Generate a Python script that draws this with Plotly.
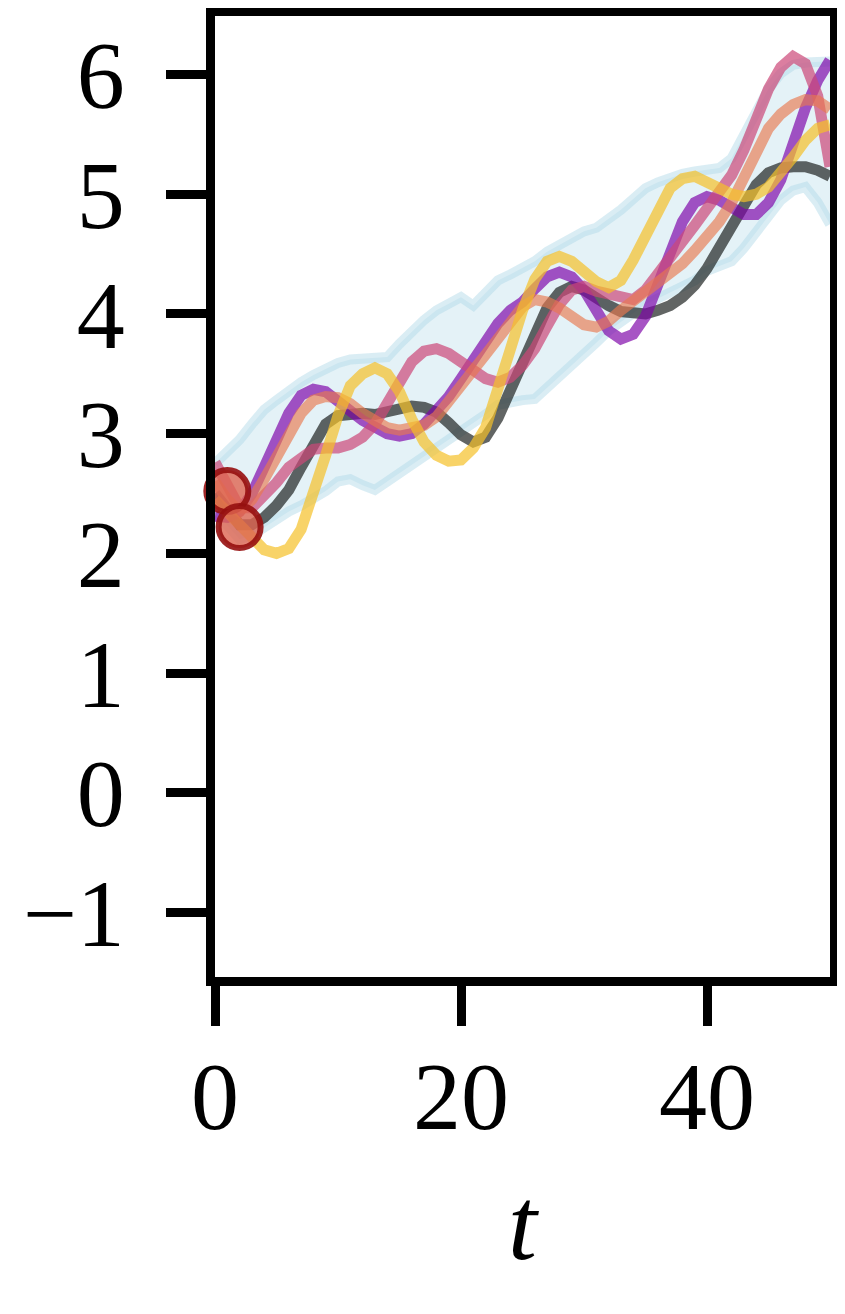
import plotly.graph_objects as go

# time steps and trajectories
t = list(range(51))

black = [2.50, 2.35, 2.24, 2.24, 2.30, 2.40, 2.53, 2.72, 2.92, 3.08,
         3.15, 3.17, 3.17, 3.16, 3.18, 3.21, 3.23, 3.22, 3.18, 3.09,
         2.99, 2.93, 2.97, 3.13, 3.36, 3.60, 3.85, 4.05, 4.18, 4.23,
         4.20, 4.13, 4.07, 4.02, 4.00, 4.00, 4.03, 4.07, 4.14, 4.24,
         4.38, 4.55, 4.74, 4.93, 5.08, 5.18, 5.22, 5.23, 5.23, 5.20, 5.15]
purple = [2.31, 2.30, 2.35, 2.50, 2.72, 2.95, 3.17, 3.32, 3.37, 3.35,
          3.28, 3.19, 3.11, 3.05, 3.00, 2.98, 3.00, 3.08, 3.19, 3.31,
          3.46, 3.62, 3.78, 3.92, 4.03, 4.10, 4.21, 4.31, 4.35, 4.31,
          4.20, 4.02, 3.86, 3.79, 3.83, 3.98, 4.25, 4.51, 4.77, 4.93,
          4.98, 4.95, 4.88, 4.83, 4.83, 4.93, 5.12, 5.44, 5.72, 5.95, 6.12]
pink = [2.76, 2.55, 2.38, 2.38, 2.48, 2.59, 2.72, 2.81, 2.87, 2.88,
        2.88, 2.91, 2.97, 3.08, 3.25, 3.45, 3.60, 3.69, 3.71, 3.67,
        3.60, 3.52, 3.46, 3.43, 3.47, 3.57, 3.71, 3.90, 4.08, 4.20,
        4.23, 4.19, 4.16, 4.14, 4.12, 4.20, 4.33, 4.45, 4.58, 4.74,
        4.88, 5.02, 5.16, 5.37, 5.64, 5.88, 6.06, 6.15, 6.09, 5.82, 5.23]
salmon = [2.60, 2.45, 2.35, 2.45, 2.62, 2.80, 3.00, 3.17, 3.28, 3.31,
          3.30, 3.25, 3.17, 3.10, 3.05, 3.03, 3.04, 3.07, 3.14, 3.26,
          3.40, 3.53, 3.66, 3.80, 3.94, 4.06, 4.12, 4.10, 4.05, 3.97,
          3.91, 3.89, 3.94, 4.03, 4.11, 4.18, 4.26, 4.33, 4.42, 4.53,
          4.65, 4.77, 4.93, 5.13, 5.36, 5.55, 5.67, 5.75, 5.79, 5.78, 5.71]
yellow = [2.45, 2.35, 2.22, 2.12, 2.03, 2.00, 2.04, 2.20, 2.48, 2.82,
          3.15, 3.40, 3.50, 3.55, 3.50, 3.35, 3.12, 2.93, 2.82, 2.77,
          2.78, 2.88, 3.05, 3.35, 3.70, 4.03, 4.29, 4.44, 4.48, 4.44,
          4.36, 4.27, 4.22, 4.28, 4.45, 4.66, 4.88, 5.05, 5.13, 5.15,
          5.10, 5.04, 5.00, 4.98, 5.00, 5.06, 5.17, 5.31, 5.45, 5.55, 5.58]

band_upper = [2.75, 2.85, 2.95, 3.08, 3.20, 3.28, 3.36, 3.43, 3.49, 3.55,
              3.59, 3.62, 3.63, 3.64, 3.64, 3.75, 3.86, 3.95, 4.03, 4.08,
              4.14, 4.07, 4.18, 4.28, 4.33, 4.38, 4.44, 4.52, 4.58, 4.64,
              4.69, 4.72, 4.79, 4.87, 4.96, 5.05, 5.10, 5.14, 5.17, 5.19,
              5.21, 5.22, 5.30, 5.48, 5.68, 5.88, 6.01, 6.08, 6.10, 6.11, 6.11]
band_lower = [2.35, 2.22, 2.12, 2.15, 2.22, 2.30, 2.35, 2.40, 2.45, 2.52,
              2.60, 2.62, 2.57, 2.53, 2.60, 2.67, 2.73, 2.79, 2.86, 2.93,
              3.00, 3.08, 3.16, 3.24, 3.27, 3.28, 3.29, 3.38, 3.48, 3.57,
              3.67, 3.76, 3.86, 3.94, 4.02, 4.08, 4.13, 4.18, 4.22, 4.28,
              4.36, 4.40, 4.44, 4.55, 4.68, 4.84, 4.95, 5.03, 5.06, 4.93, 4.75]

obs_t = [1, 2]
obs_y = [2.52, 2.22]

x_ticks = [0, 20, 40]
x_ticktext = ["0", "20", "40"]
y_ticks = [-1, 0, 1, 2, 3, 4, 5, 6]
y_ticktext = ["\u22121", "0", "1", "2", "3", "4", "5", "6"]

FONT = "Liberation Serif"
BAND = "rgba(173,216,230,0.33)"
EDGE = "rgba(173,216,230,0.45)"

fig = go.Figure()

# uncertainty band
fig.add_trace(go.Scatter(x=t, y=band_lower, mode="lines",
                         line=dict(color=EDGE, width=10), showlegend=False))
fig.add_trace(go.Scatter(x=t, y=band_upper, mode="lines", fill="tonexty",
                         fillcolor=BAND,
                         line=dict(color=EDGE, width=10), showlegend=False))

series = [
    (black, "rgba(32,36,34,0.7)"),
    (purple, "rgba(126,3,168,0.68)"),
    (pink, "rgba(204,71,120,0.7)"),
    (salmon, "rgba(232,120,79,0.65)"),
    (yellow, "rgba(245,192,40,0.7)"),
]
for ys, col in series:
    fig.add_trace(go.Scatter(x=t, y=ys, mode="lines",
                             line=dict(color=col, width=11), showlegend=False))

fig.add_trace(go.Scatter(
    x=obs_t, y=obs_y, mode="markers", showlegend=False, cliponaxis=False,
    marker=dict(size=42, color="rgba(222,100,80,0.8)",
                line=dict(color="rgba(150,15,15,0.9)", width=6)),
))

axis_common = dict(
    showline=True, linewidth=9, linecolor="black", mirror=True,
    ticks="outside", ticklen=40, tickwidth=9, tickcolor="black",
    showgrid=False, zeroline=False, automargin=False,
    tickfont=dict(family=FONT, size=96, color="black"),
)

fig.update_xaxes(range=[0, 50], tickvals=x_ticks, ticktext=x_ticktext,
                 ticklabelstandoff=-12,
                 title=dict(text="<i>t</i>", standoff=40,
                            font=dict(family=FONT, size=104, color="black")),
                 **axis_common)
fig.update_yaxes(range=[-1.539, 6.489], tickvals=y_ticks, ticktext=y_ticktext,
                 ticklabelstandoff=22, **axis_common)

# page has an 8px body margin, so the figure is sized to fit the window
fig.update_layout(
    width=837, height=1306,
    margin=dict(l=207, r=15, t=8, b=337),
    plot_bgcolor="white", paper_bgcolor="white",
)

fig.write_html("out.html")
